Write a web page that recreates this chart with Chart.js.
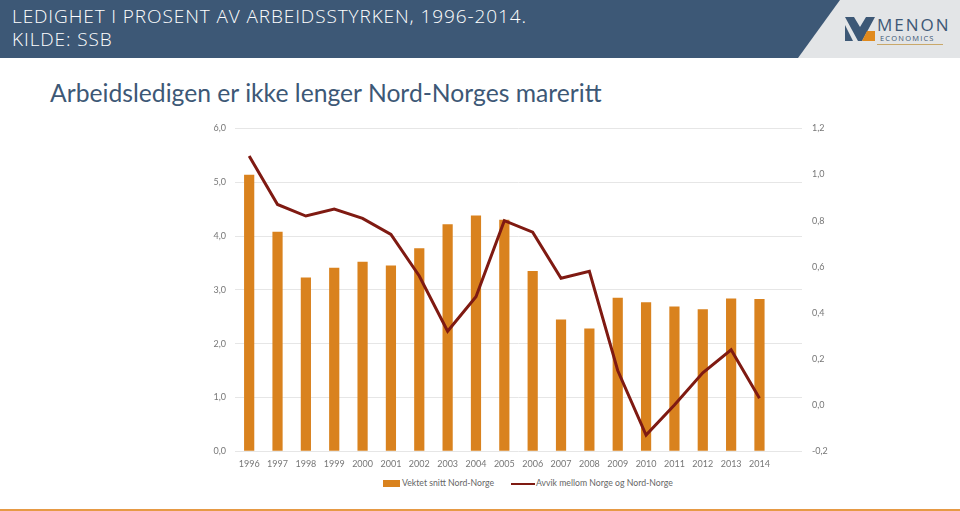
<!DOCTYPE html>
<html>
<head>
<meta charset="utf-8">
<script src="https://cdn.jsdelivr.net/npm/chart.js@4"></script>
<style>
  body { margin: 0; width: 960px; height: 511px; background: #fff; position: relative; overflow: hidden; font-family: 'Open Sans', sans-serif; }
  .header { position: absolute; left: 0; top: 0; width: 960px; height: 58px; background: #e3e5e7; }
  .band { position: absolute; left: 0; top: 0; width: 960px; height: 58px; background: #3d5876;
          clip-path: polygon(0 0, 840px 0, 798px 58px, 0 58px); }
  .htitle { position: absolute; left: 12px; top: 5px; color: #fff; font-size: 19px; line-height: 23px; font-weight: 300; letter-spacing: 0.9px; }
  .logo { position: absolute; left: 845px; top: 15px; width: 100px; height: 32px; }
  .menon { position: absolute; left: 32px; top: -2px; font-size: 17px; letter-spacing: 2px; color: #3d5876; font-family: 'Open Sans', sans-serif; }
  .econ { position: absolute; left: 35px; top: 18px; font-size: 7.5px; letter-spacing: 1.2px; color: #3d5876; }
  .uline { position: absolute; left: 32px; top: 29px; width: 66px; height: 1px; background: #c9a86a; }
  .subtitle { position: absolute; left: 50px; top: 78px; font-family: Lato, sans-serif; font-size: 24.7px; color: #3d5876; }
  .wrap { position: absolute; left: 190px; top: 113px; width: 650px; height: 363px; }
  .legend { position: absolute; top: 477px; left: 0; width: 960px; font-family: Lato, sans-serif; font-size: 8.7px; color: #666; }
  .legend .item { position: absolute; top: 0; white-space: nowrap; }
  .sw { display: inline-block; vertical-align: middle; margin-right: 2px; }
  .foot { position: absolute; left: 0; top: 509px; width: 960px; height: 2px; background: #e69a45; }
</style>
</head>
<body>
<div class="header">
  <div class="band"></div>
  <div class="htitle">LEDIGHET I PROSENT AV ARBEIDSSTYRKEN, 1996-2014.<br>KILDE: SSB</div>
  <div class="logo">
    <svg width="30" height="26" viewBox="0 0 30 26" style="position:absolute;left:0;top:2px">
      <polygon points="0,0 9,0 15,10 21,0 30,0 17,24 13,24" fill="#3d5876"/>
      <polygon points="0,8 8,24 0,24" fill="#3d5876"/>
      <polygon points="22,14 30,14 30,24 17,24" fill="#e08a1e"/>
    </svg>
    <div class="menon">MENON</div>
    <div class="econ">ECONOMICS</div>
    <div class="uline"></div>
  </div>
</div>
<div class="subtitle">Arbeidsledigen er ikke lenger Nord-Norges mareritt</div>
<div class="wrap"><canvas id="chart"></canvas></div>
<div class="legend">
  <div class="item" style="left:383px"><span class="sw" style="width:17px;height:7px;background:#d9821e"></span>Vektet snitt Nord-Norge</div>
  <div class="item" style="left:511px"><span class="sw" style="width:24px;height:2px;background:#7f1a12;margin-right:1px"></span>Avvik mellom Norge og Nord-Norge</div>
</div>
<div class="foot"></div>
<script>
// years (trailing blank slot keeps the plot width like the original)
const years = ['1996','1997','1998','1999','2000','2001','2002','2003','2004','2005','2006','2007','2008','2009','2010','2011','2012','2013','2014',''];
const nordNorge = [5.14, 4.08, 3.23, 3.41, 3.52, 3.45, 3.77, 4.22, 4.38, 4.30, 3.35, 2.45, 2.28, 2.85, 2.77, 2.69, 2.64, 2.84, 2.83, null];
const avvik = [1.08, 0.87, 0.82, 0.85, 0.81, 0.74, 0.56, 0.32, 0.47, 0.80, 0.75, 0.55, 0.58, 0.15, -0.13, 0.0, 0.14, 0.24, 0.03, null];
const leftTicks = [0, 6, 1];
const rightTicks = [-0.2, 1.2, 0.2];

function fmt(v) {
    let r = Math.round(v * 10) / 10;
    if (Math.abs(r) < 1e-9) r = 0;
    return r.toFixed(1).replace('.', ',');
}

new Chart(document.getElementById('chart'), {
    type: 'bar',
    data: {
        labels: years,
        datasets: [{
            type: 'line',
            label: 'Avvik mellom Norge og Nord-Norge',
            data: avvik,
            yAxisID: 'y1',
            borderColor: '#7f1a12',
            borderWidth: 3,
            pointRadius: 0,
            tension: 0,
            order: 0
        }, {
            label: 'Vektet snitt Nord-Norge',
            data: nordNorge,
            yAxisID: 'y',
            backgroundColor: '#d9821e',
            categoryPercentage: 1,
            barPercentage: 0.36,
            order: 1
        }]
    },
    options: {
        responsive: true,
        maintainAspectRatio: false,
        animation: false,
        layout: { padding: { top: 11, bottom: 0, left: 0, right: 0 } },
        plugins: { legend: { display: false }, tooltip: { enabled: false } },
        scales: {
            x: {
                grid: { display: false, drawTicks: false },
                border: { display: false },
                ticks: { color: '#777', font: { size: 9, family: 'Lato' }, maxRotation: 0, autoSkip: false, padding: 7 }
            },
            y: {
                position: 'left',
                min: leftTicks[0], max: leftTicks[1],
                grid: { color: '#e6e6e6', drawTicks: false },
                border: { display: false },
                ticks: { stepSize: leftTicks[2], color: '#777', font: { size: 9, family: 'Lato' }, padding: 9, callback: v => fmt(v) },
                afterFit: s => { s.width = 45; }
            },
            y1: {
                position: 'right',
                min: rightTicks[0], max: rightTicks[1],
                grid: { display: false, drawTicks: false },
                border: { display: false },
                ticks: { stepSize: rightTicks[2], color: '#777', font: { size: 9, family: 'Lato' }, padding: 10, callback: v => fmt(v) },
                afterFit: s => { s.width = 38; }
            }
        }
    }
});
</script>
</body>
</html>
